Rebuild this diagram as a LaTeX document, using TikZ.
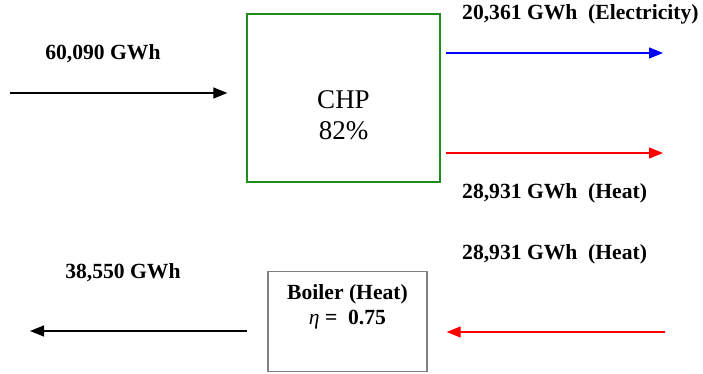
\documentclass[tikz,border=0pt]{standalone}
\usepackage{fontspec}
\setmainfont{Liberation Serif}
\usetikzlibrary{arrows.meta}
\definecolor{chpgreen}{RGB}{30,140,30}
\definecolor{boilergray}{RGB}{128,128,128}

\begin{document}
\begin{tikzpicture}[
  x=1pt,y=-1pt,
  plant/.style={draw,line width=1.3pt,minimum width=193pt,minimum height=168pt,inner sep=0pt},
  flow/.style={-{Triangle[length=14pt,width=11pt]},line width=1.2pt},
  amount/.style={font=\fontsize{21.6}{25}\selectfont\bfseries,inner sep=0pt}
]
  \useasboundingbox (0,0) rectangle (703,374);

  % units
  \node[plant,chpgreen] (chp) at (343.5,98) {};
  \node[font=\fontsize{27}{31}\selectfont,align=center] (chplabel) at (343.5,115) {CHP\\82\%};
  \node[plant,boilergray,minimum width=159pt,minimum height=100pt] (boiler) at (347.5,321.5) {};
  \node[amount,font=\fontsize{21.6}{25}\selectfont\bfseries,align=center] (boilerlabel) at (347.5,307)
    {Boiler (Heat)\\{\mdseries\itshape η} = \ 0.75};

  % free ends
  \coordinate (fuel) at (10,93);
  \coordinate (power) at (663,53);
  \coordinate (heat) at (663,153);
  \coordinate (heatsrc) at (665,332);
  \coordinate (steam) at (30,331);

  \draw[flow] (fuel) -- ([xshift=-19pt]fuel -| chp.west);
  \draw[flow,blue] ([xshift=5pt]power -| chp.east) -- (power);
  \draw[flow,red] ([xshift=5pt]heat -| chp.east) -- (heat);
  \draw[flow,red] (heatsrc) -- ([xshift=19pt]heatsrc -| boiler.east);
  \draw[flow] ([xshift=-20pt]steam -| boiler.west) -- (steam);

  % values
  \node[amount] (fuelval) at (103,54) {60,090 GWh};
  \node[amount,anchor=west] (powerval) at (462,14) {20,361 GWh \ (Electricity)};
  \node[amount,anchor=west] (heatval) at (462,193) {28,931 GWh \ (Heat)};
  \node[amount,anchor=west] (heatinval) at (462,254) {28,931 GWh \ (Heat)};
  \node[amount] (steamval) at (123,273) {38,550 GWh};
\end{tikzpicture}
\end{document}
